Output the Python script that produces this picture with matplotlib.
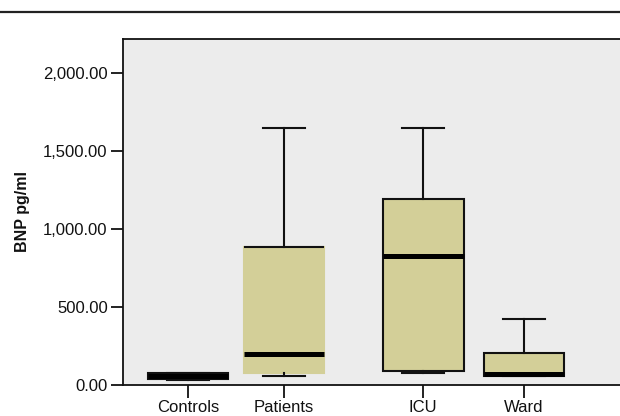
import matplotlib
matplotlib.use("Agg")
from matplotlib import pyplot as plt
from matplotlib.lines import Line2D

# BNP (pg/ml) box summaries
groups = ["Controls", "Patients", "ICU", "Ward"]
whis_low = [32, 58, 77, 60]
q1 = [40, 77, 90, 60]
medians = [58, 199, 827, 72]
q3 = [75, 885, 1192, 205]
whis_high = [77, 1647, 1647, 423]
y_ticks = [0, 500, 1000, 1500, 2000]

positions = [0, 1, 2.45, 3.5]
box_fill = "#D3CF98"
plot_bg = "#ECECEC"

plt.rcParams["font.family"] = ["Liberation Sans", "DejaVu Sans"]

fig = plt.figure(figsize=(6.2, 4.16), dpi=100)
ax = fig.add_axes([123 / 620, 31 / 416, 497 / 620, 346 / 416])
ax.set_facecolor(plot_bg)

stats = []
for i in range(len(groups)):
    stats.append({"label": groups[i], "whislo": whis_low[i], "q1": q1[i],
                  "med": medians[i], "q3": q3[i], "whishi": whis_high[i]})

bp = ax.bxp(stats, positions=positions, widths=0.84, capwidths=0.44,
            showfliers=False, patch_artist=True,
            boxprops=dict(facecolor=box_fill, edgecolor="#111111", linewidth=1.5),
            medianprops=dict(color="black", linewidth=3.6, solid_capstyle="butt"),
            whiskerprops=dict(color="#111111", linewidth=1.5),
            capprops=dict(color="#111111", linewidth=1.5))

# the Patients box shows no side edges, only a line along its top
bp["boxes"][1].set_edgecolor(box_fill)
ax.hlines(q3[1], positions[1] - 0.42, positions[1] + 0.42, color="#111111", lw=1.5)

ax.set_xlim(-0.677, 4.5)
ax.set_ylim(0, 2218)
ax.set_yticks(y_ticks)
ax.set_yticklabels(["{:,.2f}".format(v) for v in y_ticks])
ax.set_xticks(positions)
ax.set_xticklabels(groups)
ax.tick_params(axis="both", length=9, width=1.3, color="#111111",
               labelsize=12, pad=2, labelcolor="#111111")

for side in ["left", "bottom", "top"]:
    ax.spines[side].set_linewidth(1.3)
    ax.spines[side].set_color("#111111")
ax.spines["right"].set_visible(False)

ax.set_ylabel("BNP pg/ml", fontsize=11.5, fontweight="bold", color="#111111",
              va="center")
ax.yaxis.set_label_coords(-0.203, 0.5)

# rule across the top of the figure
fig.add_artist(Line2D([0, 1], [0.971, 0.971], transform=fig.transFigure,
                      color="#222222", linewidth=1.6))

fig.savefig("out.png", dpi=100)
